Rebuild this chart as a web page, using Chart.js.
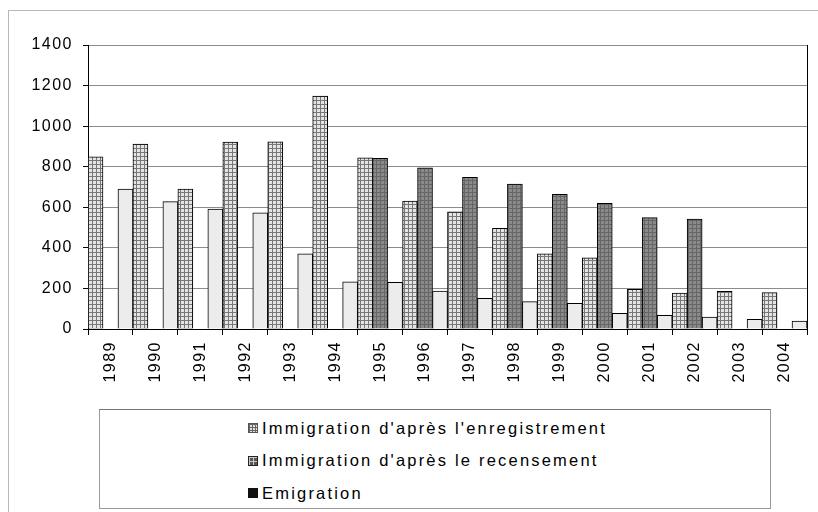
<!DOCTYPE html>
<html>
<head>
<meta charset="utf-8">
<script src="https://cdn.jsdelivr.net/npm/chart.js@4/dist/chart.umd.min.js"></script>
<style>
  html, body { margin: 0; padding: 0; background: #fff; }
  #wrap { position: relative; width: 818px; height: 512px; overflow: hidden; background: #fff; }
  #c { position: absolute; left: 0; top: 0; }
  #frame { position: absolute; left: 8px; top: 10px; width: 830px; height: 520px; border-left: 1px solid #b8b8b8; border-top: 1px solid #b8b8b8; }
  #legend { position: absolute; left: 99px; top: 409px; width: 670px; height: 98px; border: 1px solid #9a9a9a; border-top-color: #777; background: #fff; }
  #legend ul { list-style: none; margin: 0; padding: 0; position: absolute; left: 148px; top: 2px; }
  #legend li { height: 32.5px; line-height: 32.5px; font: 16.5px "Liberation Sans", Arial, sans-serif; letter-spacing: 2.2px; color: #000; white-space: nowrap; display: flex; align-items: center; }
  #legend li span.box { display: inline-block; width: 10px; height: 10px; margin-right: 4px; box-sizing: border-box; }
</style>
</head>
<body>
<div id="wrap">
  <canvas id="c" width="818" height="512"></canvas>
  <div id="frame"></div>
  <div id="legend"></div>
</div>
<script>
const years = ['1989','1990','1991','1992','1993','1994','1995','1996','1997','1998','1999','2000','2001','2002','2003','2004'];
const immigrationRegistration = [849, 912, 690, 922, 923, 1148, 844, 631, 578, 496, 370, 351, 196, 177, 186, 179];
const immigrationCensus = [null, null, null, null, null, null, 841, 795, 748, 715, 664, 619, 549, 542, null, null];
const emigration = [690, 628, 591, 573, 370, 233, 230, 187, 151, 135, 127, 77, 67, 59, 48, 39];
const seriesNames = ["Immigration d'après l'enregistrement", "Immigration d'après le recensement", "Emigration"];
const yTicks = [0, 200, 400, 600, 800, 1000, 1200, 1400];

const canvas = document.getElementById('c');
const ctx = canvas.getContext('2d');

function gridPattern(bg, line, step) {
  const c = document.createElement('canvas');
  c.width = step; c.height = step;
  const g = c.getContext('2d');
  g.fillStyle = bg; g.fillRect(0, 0, step, step);
  g.fillStyle = line; g.fillRect(0, 0, step, 1); g.fillRect(0, 0, 1, step);
  return ctx.createPattern(c, 'repeat');
}

const regFill = gridPattern('#e4e4e4', '#777777', 4);
const censusFill = gridPattern('#8a8a8a', '#666666', 4);
const emigFill = '#ececec';

const letterSpacingPlugin = {
  id: 'letterSpacing',
  beforeUpdate(chart) { chart.ctx.letterSpacing = '1.5px'; },
  beforeDraw(chart) { chart.ctx.letterSpacing = '1.5px'; }
};

const rightBorder = {
  id: 'rightBorder',
  afterDraw(chart) {
    const a = chart.chartArea, c = chart.ctx;
    c.save();
    c.strokeStyle = '#000'; c.lineWidth = 1;
    c.beginPath();
    c.moveTo(Math.round(a.right) + 0.5, a.top);
    c.lineTo(Math.round(a.right) + 0.5, a.bottom);
    c.stroke();
    c.restore();
  }
};

const legendIcons = [
  'background-color:#e2e2e2;background-image:linear-gradient(#666 1px, transparent 1px),linear-gradient(90deg,#666 1px, transparent 1px);background-size:3px 3px;border:1px solid #555;',
  'background-color:#555;background-image:linear-gradient(#ccc 1px, transparent 1px),linear-gradient(90deg,#ccc 1px, transparent 1px);background-size:4px 4px;border:1px solid #222;',
  'background:#111;'
];

const htmlLegend = {
  id: 'htmlLegend',
  afterUpdate(chart) {
    const el = document.getElementById('legend');
    el.innerHTML = '';
    const ul = document.createElement('ul');
    chart.data.datasets.forEach((ds, i) => {
      const li = document.createElement('li');
      const b = document.createElement('span');
      b.className = 'box';
      b.setAttribute('style', legendIcons[i]);
      li.appendChild(b);
      li.appendChild(document.createTextNode(ds.label));
      ul.appendChild(li);
    });
    el.appendChild(ul);
  }
};

const tickFont = { family: '"Liberation Sans", Arial, sans-serif', size: 16 };

new Chart(ctx, {
  type: 'bar',
  data: {
    labels: years,
    datasets: [
      { label: seriesNames[0], data: immigrationRegistration, backgroundColor: regFill, borderColor: '#000', borderWidth: 1 },
      { label: seriesNames[1], data: immigrationCensus, backgroundColor: censusFill, borderColor: '#000', borderWidth: 1 },
      { label: seriesNames[2], data: emigration, backgroundColor: emigFill, borderColor: '#000', borderWidth: 1 }
    ]
  },
  options: {
    responsive: false,
    animation: false,
    events: [],
    layout: { padding: { top: 45, right: 11, left: 0, bottom: 0 } },
    datasets: { bar: { categoryPercentage: 1.0, barPercentage: 1.0 } },
    plugins: { legend: { display: false }, tooltip: { enabled: false } },
    scales: {
      x: {
        offset: true,
        grid: { offset: true, drawOnChartArea: false, drawTicks: true, tickLength: 6, color: '#000' },
        border: { color: '#000', width: 1 },
        ticks: { minRotation: 90, maxRotation: 90, autoSkip: false, padding: 6, color: '#000', font: tickFont },
        afterFit(s) { s.height = 183; }
      },
      y: {
        min: 0, max: 1400,
        afterBuildTicks(s) { s.ticks = yTicks.map(v => ({ value: v })); },
        grid: { color: '#8c8c8c', tickLength: 5, tickColor: '#000' },
        border: { color: '#000', width: 1 },
        ticks: { padding: 10, color: '#000', font: tickFont, callback: v => String(v) },
        afterFit(s) { s.width = 88; }
      }
    }
  },
  plugins: [letterSpacingPlugin, rightBorder, htmlLegend]
});
</script>
</body>
</html>
